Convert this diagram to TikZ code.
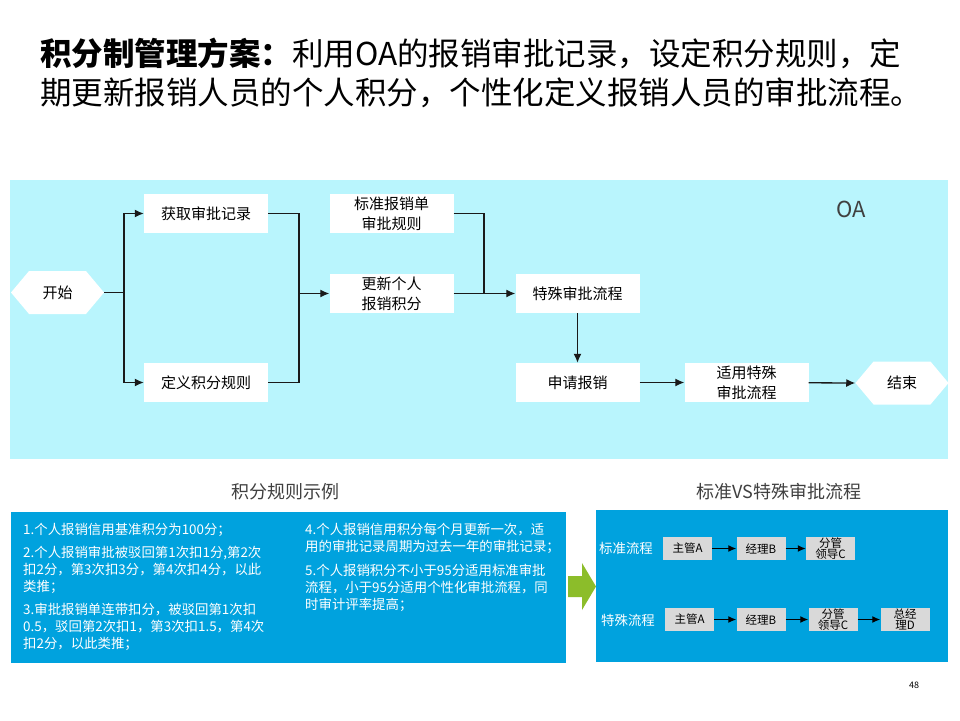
\documentclass[tikz,border=0pt]{standalone}
\usepackage{fontspec}
\setmainfont{Noto Sans CJK SC}
\usetikzlibrary{arrows.meta,positioning,shapes.symbols}
\definecolor{oabg}{HTML}{B9F5FD}
\definecolor{ruleblue}{HTML}{00A2DE}
\definecolor{boxgray}{HTML}{D9D9D9}
\definecolor{arrowgreen}{HTML}{8CBD2A}
\definecolor{headgray}{HTML}{404040}
\definecolor{linegray}{HTML}{1A1A1A}

\begin{document}
\begin{tikzpicture}[x=1pt,y=-1pt,>={Latex[length=9pt,width=8pt]},
  flowbox/.style={fill=white,minimum width=124pt,minimum height=39pt,align=center,inner sep=1pt,font=\fontsize{15}{20}\selectfont},
  endbox/.style={fill=white,signal,signal to=west and east,signal pointer angle=100,minimum width=93pt,minimum height=43pt,inner sep=1pt,font=\fontsize{15}{20}\selectfont},
  lanebox/.style={fill=boxgray,minimum width=49pt,minimum height=23pt,align=center,inner sep=0pt,font=\fontsize{11.5}{11.5}\selectfont},
  link/.style={draw=linegray,line width=1.3pt},
  lanelink/.style={draw=black,line width=1.3pt,->,>={Latex[length=8pt,width=7pt]}},
  ruletext/.style={anchor=north west,align=left,text=white,inner sep=0pt,font=\fontsize{13.4}{17}\selectfont},
  parttitle/.style={text=headgray,font=\fontsize{18}{22}\selectfont}]
\useasboundingbox (0,0) rectangle (960,720);
\fill[white] (0,0) rectangle (960,720);

% heading
\node[anchor=west,inner sep=0pt,font=\fontsize{31.5}{40}\selectfont] (head1) at (40,53) {\textbf{积分制管理方案：}利用OA的报销审批记录，设定积分规则，定};
\node[anchor=west,inner sep=0pt,font=\fontsize{31.5}{40}\selectfont] (head2) at (40,93) {期更新报销人员的个人积分，个性化定义报销人员的审批流程。};

% OA flow
\fill[oabg] (10,180) rectangle (948,459);
\node[text=headgray,font=\fontsize{22}{26}\selectfont] (oa) at (851,209) {OA};
\node[endbox] (start) at (57.5,292.5) {开始};
\node[flowbox] (fetch) at (206,213.5) {获取审批记录};
\node[flowbox] (define) at (206,382.5) {定义积分规则};
\node[flowbox] (stdrule) at (391.5,213.5) {标准报销单\\审批规则};
\node[flowbox] (update) at (391.5,293.5) {更新个人\\报销积分};
\node[flowbox] (special) at (577.5,293.5) {特殊审批流程};
\node[flowbox] (apply) at (577.5,382.5) {申请报销};
\node[flowbox] (fitflow) at (746.5,382.5) {适用特殊\\审批流程};
\node[endbox] (finish) at (902,383) {结束};
\coordinate (split) at (124,292.5);
\coordinate (merge) at (299,293.5);
\coordinate (join) at (484,293.5);
\draw[link] (start.east) -- (split);
\draw[link,->] (split) |- (fetch.west);
\draw[link,->] (split) |- (define.west);
\draw[link] (fetch.east) -| (merge);
\draw[link] (define.east) -| (merge);
\draw[link,->] (merge) -- (update.west);
\draw[link] (stdrule.east) -| (join);
\draw[link,->] (update.east) -- (special.west);
\draw[link,->] (special) -- (apply);
\draw[link,->] (apply) -- (fitflow);
\draw[link,->] (fitflow) -- (finish.west);

% rules
\node[parttitle] (rulehead) at (285,492) {积分规则示例};
\fill[ruleblue] (11,512) rectangle (566,663);
\node[ruletext] (rulesleft) at (23,523) {1.个人报销信用基准积分为100分；\\[6pt]
2.个人报销审批被驳回第1次扣1分,第2次\\扣2分，第3次扣3分，第4次扣4分，以此\\类推；\\[6pt]
3.审批报销单连带扣分，被驳回第1次扣\\0.5，驳回第2次扣1，第3次扣1.5，第4次\\扣2分，以此类推；};
\node[ruletext] (rulesright) at (305,523) {4.个人报销信用积分每个月更新一次，适\\用的审批记录周期为过去一年的审批记录；\\[7pt]
5.个人报销积分不小于95分适用标准审批\\流程，小于95分适用个性化审批流程，同\\时审计评率提高；};

\fill[arrowgreen] (568,576) -- (582,576) -- (582,563) -- (596,586.5) -- (582,610) -- (582,597) -- (568,597) -- cycle;

% standard vs special
\node[parttitle] (lanehead) at (779,492) {标准VS特殊审批流程};
\fill[ruleblue] (596,510) rectangle (948,662);
\node[text=white,font=\fontsize{13.4}{17}\selectfont] (stdlabel) at (626,548) {标准流程};
\node[lanebox] (stda) at (687.5,548.5) {主管A};
\node[lanebox] (stdb) at (761,548.5) {经理B};
\node[lanebox] (stdc) at (830.5,548.5) {分管\\领导C};
\draw[lanelink] (stda) -- (stdb);
\draw[lanelink] (stdb) -- (stdc);
\node[text=white,font=\fontsize{13.4}{17}\selectfont] (splabel) at (628,620) {特殊流程};
\node[lanebox] (spa) at (689.5,619.5) {主管A};
\node[lanebox] (spb) at (761,619.5) {经理B};
\node[lanebox] (spc) at (833,619.5) {分管\\领导C};
\node[lanebox] (spd) at (905,619.5) {总经\\理D};
\draw[lanelink] (spa) -- (spb);
\draw[lanelink] (spb) -- (spc);
\draw[lanelink] (spc) -- (spd);

\node[font=\fontsize{9}{11}\selectfont] (page) at (914,685) {48};
\end{tikzpicture}
\end{document}
